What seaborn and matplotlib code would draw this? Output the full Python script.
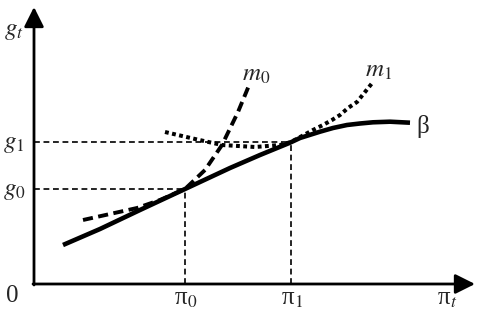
import matplotlib
matplotlib.use("Agg")
import matplotlib.pyplot as plt
import numpy as np
import pandas as pd
import seaborn as sns

# chart units: x = inflation pi_t, y = growth g_t (origin at the axes corner)
BETA_X = [29, 66, 106, 151, 196, 226, 256, 266, 286, 299, 313, 326, 339, 356, 376]
BETA_Y = [39, 55, 74, 95, 116, 129, 141.3, 146, 152.3, 156, 159, 160.5, 161.7, 162.3, 161.3]

M0_X = [49, 76, 103, 126, 151, 171, 188, 204, 216]
M0_Y = [64, 70, 76, 84, 95, 114, 139, 172, 201]

M1_X = [131, 161, 188, 221, 246, 257, 279, 289, 298, 306, 314, 323, 339]
M1_Y = [152, 145, 139, 137, 139, 142, 154, 159, 164, 169, 176, 182, 202]

PI_TICKS = [151, 257]
G_TICKS = [95, 142]
PI_LABELS = [r"π$_0$", r"π$_1$"]
G_LABELS = [r"$g_0$", r"$g_1$"]


def main():
    sns.set_style("white")
    plt.rcParams["mathtext.fontset"] = "stix"
    plt.rcParams["font.family"] = ["Liberation Serif", "DejaVu Serif"]

    fig = plt.figure(figsize=(4.84, 3.24), dpi=100)
    ax = fig.add_axes([0, 0, 1, 1])

    beta = pd.DataFrame({"pi": BETA_X, "g": BETA_Y})
    m0 = pd.DataFrame({"pi": M0_X, "g": M0_Y})
    m1 = pd.DataFrame({"pi": M1_X, "g": M1_Y})

    # guide lines
    for px, gy in zip(PI_TICKS, G_TICKS):
        ax.plot([0, px], [gy, gy], color="black", lw=1.2, ls=(0, (3.5, 2.2)))
        ax.plot([px, px], [0, gy], color="black", lw=1.2, ls=(0, (3.5, 2.2)))

    sns.lineplot(data=beta, x="pi", y="g", sort=False, ax=ax, color="black",
                 lw=3.3, solid_capstyle="butt", solid_joinstyle="round")
    sns.lineplot(data=m0, x="pi", y="g", sort=False, ax=ax, color="black",
                 lw=2.8, linestyle=(0, (2.6, 1.4)))
    sns.lineplot(data=m1, x="pi", y="g", sort=False, ax=ax, color="black",
                 lw=2.9, linestyle=(0, (0.95, 0.85)))
    ax.set_xlim(-34, 450)
    ax.set_ylim(-40, 284)
    ax.axis("off")

    # axes with arrows
    arrow = dict(arrowstyle="-|>,head_length=0.6,head_width=0.3", color="black",
                 lw=2.0, mutation_scale=20, shrinkA=0, shrinkB=0)
    ax.annotate("", xy=(441, 0), xytext=(-1, 0), arrowprops=arrow)
    ax.annotate("", xy=(0, 277), xytext=(0, -1), arrowprops=arrow)

    fs = 18
    ax.text(-20, 253, r"$g_t$", fontsize=fs, ha="center", va="center")
    for gy, lab in zip(G_TICKS, G_LABELS):
        ax.text(-20, gy - 2, lab, fontsize=fs, ha="center", va="center")
    for px, lab in zip(PI_TICKS, PI_LABELS):
        ax.text(px + 1, -15, lab, fontsize=fs, ha="center", va="center")
    ax.text(413, -15, r"π$_t$", fontsize=fs, ha="center", va="center")
    ax.text(-22, -12, "0", fontsize=fs, ha="center", va="center")
    ax.text(222, 209, r"$m_0$", fontsize=fs, ha="center", va="center")
    ax.text(345, 213, r"$m_1$", fontsize=fs, ha="center", va="center")
    ax.text(389, 158, "β", fontsize=fs, ha="center", va="center")

    fig.savefig("out.png", dpi=100)
    plt.close(fig)


if __name__ == "__main__":
    main()
